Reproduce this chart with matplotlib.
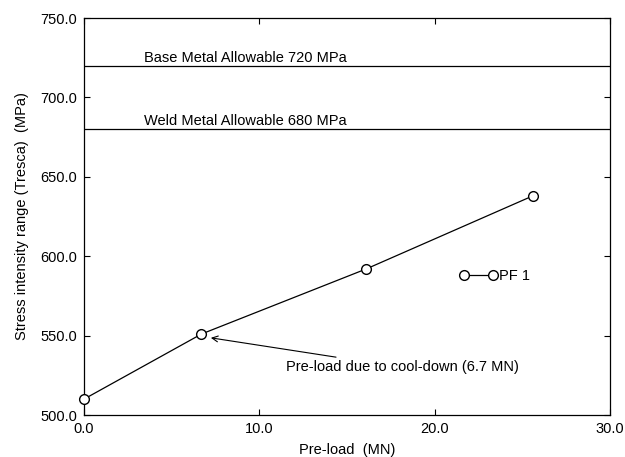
import matplotlib
matplotlib.use('Agg')
import matplotlib.pyplot as plt

plt.rcParams['font.family'] = ['Liberation Sans', 'DejaVu Sans']

# Datos
preload = [0.0, 6.7, 16.1, 25.6]
stress = [510.0, 551.0, 592.0, 638.0]
base_allow = 720.0
weld_allow = 680.0
xticks = [0.0, 10.0, 20.0, 30.0]
yticks = [500.0, 550.0, 600.0, 650.0, 700.0, 750.0]

fs = 10.5

fig = plt.figure(figsize=(6.25, 4.57), dpi=100)
ax = fig.add_axes([0.1344, 0.0919, 0.8416, 0.8687])

ax.plot(preload, stress, color='black', lw=0.9, marker='o', ms=7,
        mfc='white', mec='black', mew=1.0, label='PF 1', clip_on=False, zorder=3)
ax.axhline(base_allow, color='black', lw=0.9)
ax.axhline(weld_allow, color='black', lw=0.9)

ax.text(3.4, base_allow + 2.5, 'Base Metal Allowable 720 MPa', fontsize=fs)
ax.text(3.4, weld_allow + 2.5, 'Weld Metal Allowable 680 MPa', fontsize=fs)

ax.annotate('Pre-load due to cool-down (6.7 MN)', xy=(7.0, 549), xytext=(11.5, 530),
            fontsize=fs, va='center',
            arrowprops=dict(arrowstyle='->', color='black', lw=0.8, shrinkA=2, shrinkB=3))

ax.set_xlim(0, 30)
ax.set_ylim(500, 750)
ax.set_xticks(xticks)
ax.set_yticks(yticks)
ax.set_xticklabels(['%.1f' % v for v in xticks], fontsize=fs)
ax.set_yticklabels(['%.1f' % v for v in yticks], fontsize=fs)
ax.tick_params(direction='in', top=True, right=True, length=4, width=0.8, pad=5)

ax.set_xlabel('Pre-load  (MN)', fontsize=fs, labelpad=5)
ax.set_ylabel('Stress intensity range (Tresca)  (MPa)', fontsize=fs, labelpad=8)

ax.legend(loc='center left', bbox_to_anchor=(0.70, 0.35), frameon=False, fontsize=fs,
          numpoints=2, handlelength=2.6, handletextpad=0.1, borderpad=0)

for s in ax.spines.values():
    s.set_linewidth(0.9)

plt.savefig('out.png', dpi=100)
